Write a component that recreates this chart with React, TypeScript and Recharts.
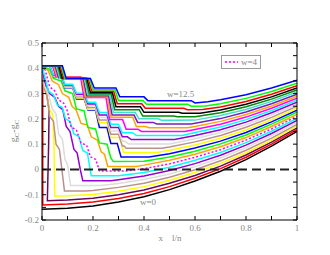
import React from 'react';
import { LineChart, Line, XAxis, YAxis, ReferenceLine } from 'recharts';

// w = 0, 0.5, ... 12.5 ; one array of [x, y] points per curve
const W_VALUES = [0, 0.5, 1, 1.5, 2, 2.5, 3, 3.5, 4, 4.5, 5, 5.5, 6, 6.5, 7, 7.5, 8, 8.5, 9, 9.5, 10, 10.5, 11, 11.5, 12, 12.5];

const W0 = [[0,-0.157],[0.1,-0.154],[0.2,-0.145],[0.3,-0.129],[0.4,-0.108],[0.5,-0.08],[0.6,-0.046],[0.7,-0.007],[0.8,0.039],[0.9,0.092],[1,0.15]];
const W1 = [[0.003,0.41],[0.003,-0.141],[0.1,-0.137],[0.2,-0.129],[0.3,-0.115],[0.4,-0.095],[0.5,-0.068],[0.6,-0.035],[0.7,0.003],[0.8,0.048],[0.9,0.1],[1,0.157]];
const W2 = [[0,0.41],[0.012,0.33],[0.028,0.24],[0.026,0.1],[0.021,-0.124],[0.1,-0.121],[0.2,-0.114],[0.3,-0.1],[0.4,-0.081],[0.5,-0.055],[0.6,-0.024],[0.7,0.013],[0.8,0.057],[0.9,0.108],[1,0.164]];
const W3 = [[0,0.41],[0.005,0.34],[0.018,0.3],[0.028,0.24],[0.042,0.215],[0.047,0.1],[0.05,-0.105],[0.1,-0.104],[0.2,-0.099],[0.3,-0.086],[0.4,-0.068],[0.5,-0.043],[0.6,-0.012],[0.7,0.024],[0.8,0.066],[0.9,0.116],[1,0.171]];
const W4 = [[0,0.41],[0.008,0.32],[0.02,0.29],[0.03,0.21],[0.045,0.19],[0.055,0.1],[0.068,0.08],[0.078,0],[0.088,-0.085],[0.17,-0.085],[0.2,-0.083],[0.3,-0.071],[0.4,-0.055],[0.5,-0.031],[0.6,-0.001],[0.7,0.034],[0.8,0.076],[0.9,0.124],[1,0.178]];
const W5 = [[0,0.41],[0.01,0.33],[0.025,0.3],[0.04,0.24],[0.055,0.22],[0.065,0.14],[0.08,0.12],[0.09,0.04],[0.1,0.02],[0.112,-0.064],[0.23,-0.064],[0.3,-0.056],[0.4,-0.04],[0.5,-0.018],[0.6,0.011],[0.7,0.045],[0.8,0.086],[0.9,0.133],[1,0.186]];
const W6 = [[0,0.41],[0.01,0.35],[0.03,0.3],[0.05,0.285],[0.065,0.25],[0.082,0.235],[0.095,0.17],[0.11,0.15],[0.125,0.08],[0.138,0.065],[0.15,0],[0.16,-0.045],[0.27,-0.045],[0.3,-0.041],[0.4,-0.026],[0.5,-0.004],[0.6,0.023],[0.7,0.056],[0.8,0.096],[0.9,0.142],[1,0.194]];
const W7 = [[0,0.41],[0.01,0.37],[0.025,0.31],[0.045,0.295],[0.06,0.255],[0.08,0.245],[0.092,0.2],[0.11,0.19],[0.125,0.14],[0.145,0.13],[0.16,0.075],[0.178,0.065],[0.193,-0.025],[0.3,-0.025],[0.4,-0.012],[0.5,0.009],[0.6,0.036],[0.7,0.067],[0.8,0.106],[0.9,0.151],[1,0.202]];
const W8 = [[0,0.41],[0.012,0.395],[0.03,0.327],[0.05,0.31],[0.065,0.275],[0.085,0.262],[0.098,0.235],[0.114,0.168],[0.135,0.155],[0.153,0.105],[0.175,0.095],[0.19,0.05],[0.21,0.04],[0.226,-0.006],[0.33,-0.006],[0.4,0.003],[0.5,0.022],[0.6,0.048],[0.7,0.078],[0.8,0.116],[0.9,0.16],[1,0.21]];
const W9 = [[0,0.41],[0.025,0.39],[0.04,0.35],[0.065,0.335],[0.08,0.3],[0.105,0.285],[0.118,0.25],[0.134,0.235],[0.153,0.182],[0.178,0.176],[0.193,0.129],[0.217,0.116],[0.232,0.07],[0.245,0.06],[0.258,0.012],[0.37,0.012],[0.4,0.017],[0.5,0.036],[0.6,0.06],[0.7,0.09],[0.8,0.126],[0.9,0.17],[1,0.218]];
const W10 = [[0,0.41],[0.03,0.395],[0.045,0.36],[0.075,0.35],[0.09,0.311],[0.12,0.3],[0.135,0.239],[0.165,0.232],[0.18,0.166],[0.21,0.16],[0.225,0.105],[0.255,0.1],[0.27,0.045],[0.28,0.031],[0.4,0.032],[0.5,0.049],[0.6,0.072],[0.7,0.101],[0.8,0.136],[0.9,0.179],[1,0.226]];
const W11 = [[0,0.41],[0.03,0.41],[0.045,0.367],[0.075,0.367],[0.09,0.323],[0.12,0.323],[0.135,0.279],[0.165,0.279],[0.18,0.235],[0.21,0.235],[0.225,0.166],[0.255,0.166],[0.27,0.103],[0.295,0.103],[0.31,0.049],[0.42,0.049],[0.5,0.062],[0.6,0.085],[0.7,0.112],[0.8,0.146],[0.9,0.188],[1,0.234]];
const W12 = [[0,0.41],[0.03,0.41],[0.045,0.368],[0.075,0.368],[0.09,0.325],[0.12,0.325],[0.135,0.282],[0.165,0.282],[0.18,0.238],[0.21,0.238],[0.225,0.185],[0.255,0.185],[0.27,0.126],[0.305,0.126],[0.32,0.067],[0.45,0.067],[0.5,0.076],[0.6,0.097],[0.7,0.123],[0.8,0.156],[0.9,0.197],[1,0.242]];
const W13 = [[0,0.41],[0.03,0.41],[0.045,0.369],[0.075,0.369],[0.09,0.328],[0.12,0.328],[0.135,0.287],[0.165,0.287],[0.18,0.245],[0.21,0.245],[0.225,0.195],[0.255,0.195],[0.27,0.139],[0.3,0.139],[0.315,0.093],[0.322,0.093],[0.33,0.084],[0.47,0.084],[0.5,0.089],[0.6,0.109],[0.7,0.134],[0.8,0.167],[0.9,0.206],[1,0.25]];
const W14 = [[0,0.41],[0.03,0.41],[0.045,0.37],[0.075,0.37],[0.09,0.331],[0.12,0.331],[0.135,0.291],[0.165,0.291],[0.18,0.252],[0.21,0.252],[0.225,0.205],[0.255,0.205],[0.27,0.152],[0.3,0.152],[0.315,0.111],[0.325,0.111],[0.34,0.101],[0.5,0.101],[0.6,0.121],[0.7,0.146],[0.8,0.177],[0.9,0.215],[1,0.258]];
const W15 = [[0,0.41],[0.03,0.41],[0.045,0.372],[0.075,0.372],[0.09,0.334],[0.12,0.334],[0.135,0.297],[0.165,0.297],[0.18,0.259],[0.21,0.259],[0.225,0.215],[0.255,0.215],[0.27,0.166],[0.3,0.166],[0.315,0.129],[0.335,0.129],[0.35,0.118],[0.52,0.118],[0.6,0.134],[0.7,0.157],[0.8,0.187],[0.9,0.224],[1,0.266]];
const W16 = [[0,0.41],[0.03,0.41],[0.045,0.374],[0.075,0.374],[0.09,0.337],[0.12,0.337],[0.135,0.301],[0.165,0.301],[0.18,0.266],[0.21,0.266],[0.225,0.225],[0.255,0.225],[0.27,0.179],[0.3,0.179],[0.315,0.145],[0.355,0.145],[0.37,0.134],[0.55,0.134],[0.6,0.146],[0.7,0.168],[0.8,0.197],[0.9,0.233],[1,0.274]];
const W17 = [[0,0.41],[0.041,0.41],[0.055,0.367],[0.151,0.367],[0.165,0.284],[0.251,0.284],[0.265,0.197],[0.316,0.197],[0.33,0.159],[0.376,0.159],[0.39,0.15],[0.56,0.15],[0.6,0.158],[0.7,0.179],[0.8,0.207],[0.9,0.242],[1,0.282]];
const W18 = [[0,0.41],[0.046,0.41],[0.06,0.365],[0.156,0.365],[0.17,0.287],[0.256,0.287],[0.27,0.206],[0.356,0.206],[0.37,0.17],[0.406,0.17],[0.42,0.165],[0.57,0.165],[0.6,0.17],[0.7,0.19],[0.8,0.217],[0.9,0.251],[1,0.29]];
const W19 = [[0,0.41],[0.051,0.41],[0.065,0.363],[0.161,0.363],[0.175,0.291],[0.261,0.291],[0.275,0.215],[0.361,0.215],[0.375,0.186],[0.436,0.186],[0.45,0.18],[0.585,0.18],[0.7,0.201],[0.8,0.227],[0.9,0.26],[1,0.298]];
const W20 = [[0,0.41],[0.056,0.41],[0.07,0.362],[0.166,0.362],[0.18,0.295],[0.266,0.295],[0.28,0.225],[0.366,0.225],[0.38,0.2],[0.456,0.2],[0.47,0.194],[0.6,0.195],[0.7,0.213],[0.8,0.237],[0.9,0.269],[1,0.306]];
const W21 = [[0,0.41],[0.061,0.41],[0.075,0.361],[0.171,0.361],[0.185,0.299],[0.271,0.299],[0.285,0.236],[0.381,0.236],[0.395,0.211],[0.516,0.211],[0.53,0.208],[0.6,0.208],[0.7,0.224],[0.8,0.248],[0.9,0.278],[1,0.314]];
const W22 = [[0,0.41],[0.066,0.41],[0.08,0.36],[0.176,0.36],[0.19,0.304],[0.276,0.304],[0.29,0.248],[0.386,0.248],[0.4,0.226],[0.536,0.226],[0.55,0.222],[0.62,0.222],[0.7,0.235],[0.8,0.258],[0.9,0.287],[1,0.322]];
const W23 = [[0,0.41],[0.071,0.41],[0.085,0.36],[0.181,0.36],[0.195,0.309],[0.281,0.309],[0.295,0.26],[0.391,0.26],[0.405,0.242],[0.556,0.242],[0.57,0.236],[0.63,0.237],[0.7,0.247],[0.8,0.269],[0.9,0.297],[1,0.331]];
const W24 = [[0,0.41],[0.076,0.41],[0.09,0.36],[0.186,0.36],[0.2,0.315],[0.286,0.315],[0.3,0.273],[0.396,0.273],[0.41,0.258],[0.571,0.258],[0.585,0.25],[0.64,0.251],[0.7,0.26],[0.8,0.281],[0.9,0.308],[1,0.341]];
const W25 = [[0,0.41],[0.08,0.41],[0.095,0.36],[0.19,0.36],[0.205,0.322],[0.29,0.322],[0.305,0.287],[0.4,0.287],[0.415,0.272],[0.585,0.272],[0.6,0.263],[0.65,0.268],[0.7,0.276],[0.8,0.295],[0.9,0.322],[1,0.353]];

const CURVES = [W0, W1, W2, W3, W4, W5, W6, W7, W8, W9, W10, W11, W12, W13, W14, W15, W16, W17, W18, W19, W20, W21, W22, W23, W24, W25];

const X_TICKS = [0, 0.1, 0.2, 0.3, 0.4, 0.5, 0.6, 0.7, 0.8, 0.9, 1];
const X_LABELS = ['0', '', '0.2', '', '0.4', '', '0.6', '', '0.8', '', '1'];
const Y_TICKS = [-0.2, -0.15, -0.1, -0.05, 0, 0.05, 0.1, 0.15, 0.2, 0.25, 0.3, 0.35, 0.4, 0.45, 0.5];
const Y_LABELS = ['-0.2', '', '-0.1', '', '0', '', '0.1', '', '0.2', '', '0.3', '', '0.4', '', '0.5'];

const COLORS = [
  '#000000', '#ff0000', '#6b0a5a', '#ffff00', '#bc8f8f', '#dcdcdc', '#9400d3', '#00ffff', '#ff00ff',
  '#ffa500', '#00ff00', '#0000ff', '#ffff00', '#bc8f8f', '#dcdcdc', '#9400d3', '#00ffff', '#ff00ff',
  '#ffa500', '#7221bc', '#40e0d0', '#008b00', '#000000', '#ff0000', '#00ff00', '#0000ff',
];

const FONT = 'Liberation Serif, Times New Roman, serif';
const TXT = '#888';
const TICK = 4;

const label = (arr: number[], labels: string[], v: number) => {
  const i = arr.findIndex((t) => Math.abs(t - v) < 1e-9);
  return i >= 0 ? labels[i] : '';
};

const BottomTick = (p: any) => {
  const { x, y, payload } = p;
  const t = label(X_TICKS, X_LABELS, payload.value);
  return (
    <g>
      <line x1={x} x2={x} y1={y} y2={y - TICK} stroke="#000" />
      {t && (
        <text x={x} y={y + 11} textAnchor="middle" fontSize={9} fill={TXT} fontFamily={FONT}>
          {t}
        </text>
      )}
    </g>
  );
};

const TopTick = (p: any) => {
  const { x, y } = p;
  return <line x1={x} x2={x} y1={y} y2={y + TICK} stroke="#000" />;
};

const LeftTick = (p: any) => {
  const { x, y, payload } = p;
  const t = label(Y_TICKS, Y_LABELS, payload.value);
  return (
    <g>
      <line x1={x} x2={x + TICK} y1={y} y2={y} stroke="#000" />
      {t && (
        <text x={x - 3} y={y + 3} textAnchor="end" fontSize={9} fill={TXT} fontFamily={FONT}>
          {t}
        </text>
      )}
    </g>
  );
};

const RightTick = (p: any) => {
  const { x, y } = p;
  return <line x1={x} x2={x - TICK} y1={y} y2={y} stroke="#000" />;
};

const FRAME = [{ x: 0, y: -0.2 }, { x: 1, y: 0.5 }];

export default function App() {
  return (
    <div style={{ position: 'absolute', left: 0, top: 0, width: 330, height: 255, background: '#fff' }}>
      <LineChart width={330} height={255} margin={{ top: 42, right: 32, bottom: 34, left: 41 }}>
        <XAxis xAxisId="b" type="number" dataKey="x" domain={[0, 1]} ticks={X_TICKS} interval={0}
          height={1} tickSize={0} tickMargin={0} tickLine={false} tick={BottomTick}
          axisLine={{ stroke: '#000' }} allowDataOverflow />
        <XAxis xAxisId="t" orientation="top" type="number" dataKey="x" domain={[0, 1]} ticks={X_TICKS} interval={0}
          height={1} tickSize={0} tickMargin={0} tickLine={false} tick={TopTick}
          axisLine={{ stroke: '#000' }} allowDataOverflow />
        <YAxis yAxisId="l" type="number" domain={[-0.2, 0.5]} ticks={Y_TICKS} interval={0}
          width={1} tickSize={0} tickMargin={0} tickLine={false} tick={LeftTick}
          axisLine={{ stroke: '#000' }} allowDataOverflow />
        <YAxis yAxisId="r" orientation="right" type="number" domain={[-0.2, 0.5]} ticks={Y_TICKS} interval={0}
          width={1} tickSize={0} tickMargin={0} tickLine={false} tick={RightTick}
          axisLine={{ stroke: '#000' }} allowDataOverflow />
        <Line xAxisId="t" yAxisId="r" data={FRAME} dataKey="y" stroke="none" dot={false}
          isAnimationActive={false} />
        {CURVES.map((c, i) => (
          <Line
            key={W_VALUES[i]}
            xAxisId="b"
            yAxisId="l"
            data={c.map(([x, y]) => ({ x, y }))}
            dataKey="y"
            type="linear"
            stroke={COLORS[i]}
            strokeWidth={1.5}
            strokeDasharray={W_VALUES[i] === 4 ? '2 2' : undefined}
            dot={false}
            activeDot={false}
            isAnimationActive={false}
          />
        ))}
        <ReferenceLine xAxisId="b" yAxisId="l" y={0} stroke="#222" strokeWidth={2} strokeDasharray="9 5" />
      </LineChart>

      <svg width={330} height={255} style={{ position: 'absolute', left: 0, top: 0, pointerEvents: 'none' }}>
        <text transform="rotate(-90 17 131)" x={17} y={131} textAnchor="middle" fontSize={10} fill={TXT} fontFamily={FONT}>
          g<tspan fontSize={7} dy={2}>C</tspan><tspan dy={-2}>-g</tspan><tspan fontSize={7} dy={2}>C</tspan>
        </text>
        <text x={170} y={241} textAnchor="middle" fontSize={9} fill={TXT} fontFamily={FONT}>
          x{'\u2003'}l/n
        </text>
        <text x={167} y={97} fontSize={9} fill={TXT} fontFamily={FONT}>w=12.5</text>
        <text x={140} y={205} fontSize={9} fill={TXT} fontFamily={FONT}>w=0</text>
        <rect x={221.5} y={55.5} width={39} height={13} fill="#fff" stroke="#999" />
        <line x1={225} x2={238} y1={62} y2={62} stroke="#ff00ff" strokeWidth={1.5} strokeDasharray="2 2" />
        <text x={241} y={65} fontSize={9} fill={TXT} fontFamily={FONT}>w=4</text>
      </svg>
    </div>
  );
}
